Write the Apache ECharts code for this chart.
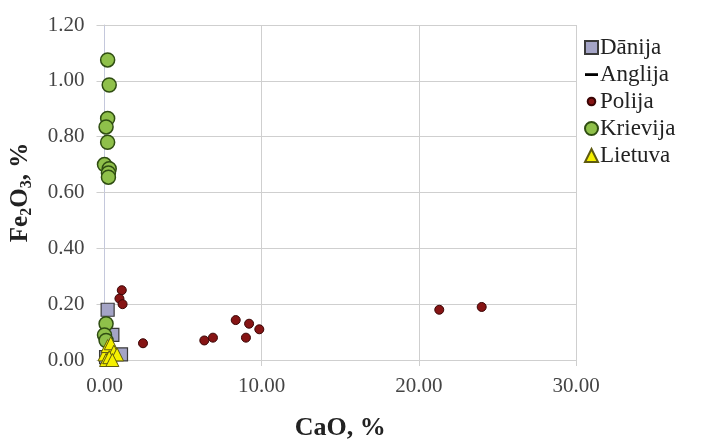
<!DOCTYPE html>
<html>
<head>
<meta charset="utf-8">
<script src="https://cdn.jsdelivr.net/npm/echarts@6/dist/echarts.min.js"></script>
<style>
  html, body { margin: 0; padding: 0; background: #ffffff; }
  #chart { width: 702px; height: 446px; }
</style>
</head>
<body>
<div id="chart"></div>
<script>
// CaO vs Fe2O3 content by country of origin, in percent
const seriesNames = ['Dānija', 'Anglija', 'Polija', 'Krievija', 'Lietuva'];

const danija = [[0.2, 0.18], [1.05, 0.02], [0.1, 0.01], [0.35, 0.0], [0.5, 0.09]];
const anglija = [];
const polija = [
  [1.1, 0.25], [0.95, 0.22], [1.15, 0.20], [2.45, 0.06], [6.35, 0.07], [6.9, 0.08],
  [8.35, 0.143], [9.2, 0.13], [9.85, 0.11], [9.0, 0.08], [21.3, 0.18], [24.0, 0.19]
];
const krievija = [
  [0.2, 1.075], [0.3, 0.985], [0.2, 0.865], [0.1, 0.835], [0.2, 0.78], [0.0, 0.70],
  [0.3, 0.685], [0.25, 0.67], [0.25, 0.655], [0.1, 0.13], [0.0, 0.09], [0.1, 0.07]
];
const lietuva = [
  [0.0, 0.02], [0.2, 0.05], [0.4, 0.06], [0.6, 0.03], [0.8, 0.02], [0.1, 0.0], [0.3, 0.01], [0.5, 0.0]
];

const xTicks = { min: 0, max: 30, interval: 10 };
const yTicks = { min: 0, max: 1.2, interval: 0.2 };

const serif = '"Liberation Serif", "Times New Roman", serif';
const gridColor = '#cfcfcf';

const chart = echarts.init(document.getElementById('chart'), null, { renderer: 'canvas' });

chart.setOption({
  animation: false,
  backgroundColor: '#ffffff',
  grid: { left: 104, right: 126, top: 25, bottom: 71, containLabel: false },
  legend: {
    orient: 'vertical',
    left: 579,
    top: 31,
    itemWidth: 13,
    itemHeight: 13,
    itemGap: 4,
    symbolKeepAspect: true,
    textStyle: { fontFamily: serif, fontSize: 23, color: '#222222', padding: [0, 0, 0, -3] },
    data: [
      { name: 'Dānija', icon: 'rect' },
      { name: 'Anglija', icon: 'path://M0,0M12,12M0,4.8H12V7.4H0Z' },
      { name: 'Polija', icon: 'path://M0,0M12,12M6,2.5A3.5,3.5,0,1,1,5.99,2.5Z' },
      { name: 'Krievija', icon: 'circle' },
      { name: 'Lietuva', icon: 'triangle' }
    ]
  },
  xAxis: {
    type: 'value',
    min: xTicks.min,
    max: xTicks.max,
    interval: xTicks.interval,
    name: 'CaO, %',
    nameLocation: 'middle',
    nameGap: 55,
    nameTextStyle: { fontFamily: serif, fontSize: 26, fontWeight: 'bold', color: '#222222' },
    axisLine: { show: true, lineStyle: { color: gridColor, width: 1 } },
    axisTick: { show: true, length: 6, lineStyle: { color: gridColor } },
    axisLabel: {
      fontFamily: serif, fontSize: 21, color: '#444444', margin: 16,
      formatter: v => v.toFixed(2)
    },
    splitLine: { show: true, lineStyle: { color: gridColor, width: 1 } }
  },
  yAxis: {
    type: 'value',
    min: yTicks.min,
    max: yTicks.max,
    interval: yTicks.interval,
    name: 'Fe{s|2}O{s|3}, %',
    nameLocation: 'middle',
    nameGap: 70,
    nameTextStyle: {
      fontFamily: serif, fontSize: 25, fontWeight: 'bold', color: '#222222',
      rich: { s: { fontFamily: serif, fontSize: 16, fontWeight: 'bold', verticalAlign: 'bottom', padding: [12, 0, 0, 0] } }
    },
    axisLine: { show: true, lineStyle: { color: '#c4c8dc', width: 1 } },
    axisTick: { show: true, length: 8, lineStyle: { color: gridColor } },
    axisLabel: {
      fontFamily: serif, fontSize: 21, color: '#444444', margin: 20,
      formatter: v => v.toFixed(2)
    },
    splitLine: { show: true, lineStyle: { color: gridColor, width: 1 } }
  },
  series: [
    {
      name: 'Dānija', type: 'scatter', data: danija,
      symbol: 'rect', symbolSize: 13,
      itemStyle: { color: '#a4a4c6', borderColor: '#3a3a3a', borderWidth: 1.2, opacity: 1 }
    },
    {
      name: 'Anglija', type: 'scatter', data: anglija,
      symbol: 'path://M0,0M12,12M0,4.8H12V7.4H0Z', symbolSize: 12,
      itemStyle: { color: '#000000', opacity: 1 }
    },
    {
      name: 'Polija', type: 'scatter', data: polija,
      symbol: 'circle', symbolSize: 9,
      itemStyle: { color: '#861414', borderColor: '#3a0505', borderWidth: 1, opacity: 1 }
    },
    {
      name: 'Krievija', type: 'scatter', data: krievija,
      symbol: 'circle', symbolSize: 14,
      itemStyle: { color: '#8fc04a', borderColor: '#2f4d12', borderWidth: 1.5, opacity: 1 }
    },
    {
      name: 'Lietuva', type: 'scatter', data: lietuva,
      symbol: 'triangle', symbolSize: 13,
      itemStyle: { color: '#f5f000', borderColor: '#5e5a10', borderWidth: 1, opacity: 1 }
    }
  ]
});
</script>
</body>
</html>
